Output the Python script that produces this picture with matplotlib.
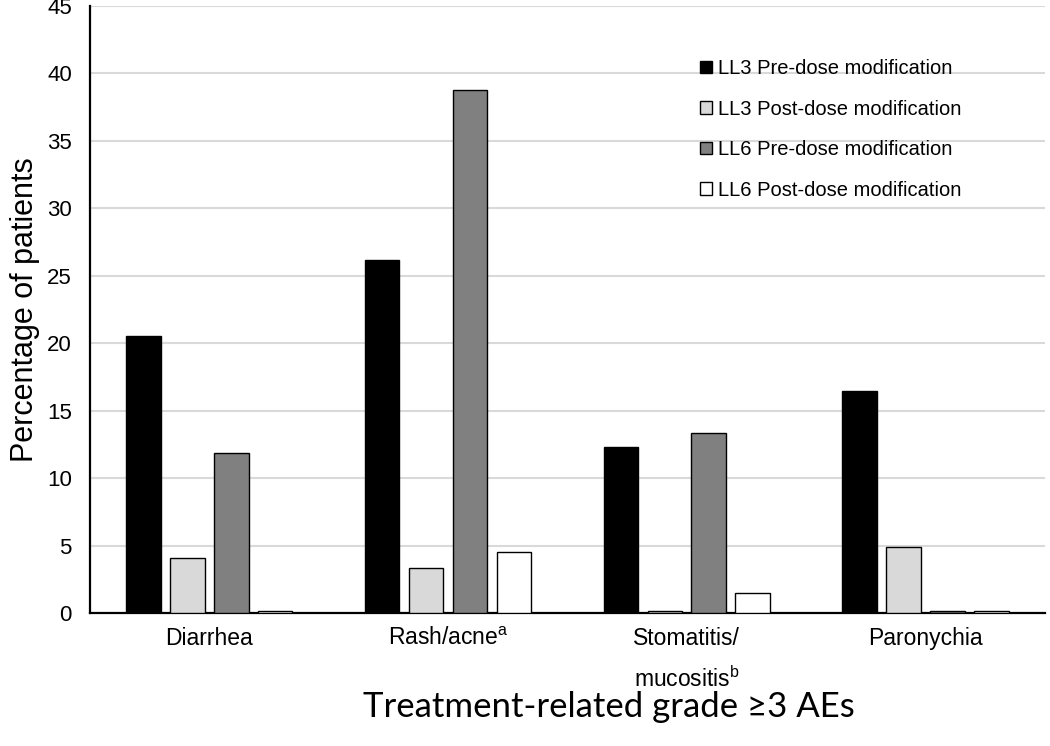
import numpy as np
import matplotlib
matplotlib.use('Agg')
import matplotlib.pyplot as plt

plt.rcParams['font.family'] = ['Liberation Sans', 'DejaVu Sans']
plt.rcParams['mathtext.fontset'] = 'custom'
plt.rcParams['mathtext.rm'] = 'Liberation Sans'
plt.rcParams['mathtext.it'] = 'Liberation Sans'

categories = ['Diarrhea', 'Rash/acne$^{\\mathrm{a}}$', 'Stomatitis/\nmucositis$^{\\mathrm{b}}$', 'Paronychia']
series_names = ['LL3 Pre-dose modification', 'LL3 Post-dose modification',
                'LL6 Pre-dose modification', 'LL6 Post-dose modification']
ll3_pre = [20.5, 26.2, 12.3, 16.45]
ll3_post = [4.05, 3.3, 0.15, 4.9]
ll6_pre = [11.85, 38.75, 13.35, 0.15]
ll6_post = [0.15, 4.5, 1.5, 0.12]
colors = ['#000000', '#d9d9d9', '#808080', '#ffffff']
yticks = [0, 5, 10, 15, 20, 25, 30, 35, 40, 45]

fig = plt.figure(figsize=(10.5, 7.46), dpi=100)
ax = fig.add_axes([0.0857, 0.1783, 0.9093, 0.8137])

x = np.arange(len(categories))
step = 0.184
width = 0.1445
for i, (vals, col, name) in enumerate(zip([ll3_pre, ll3_post, ll6_pre, ll6_post], colors, series_names)):
    ax.bar(x + (i - 1.5) * step, vals, width, color=col, edgecolor='black',
           linewidth=1.0, label=name, zorder=3)

ax.set_xlim(-0.5, 3.5)
ax.set_ylim(0, 45)
ax.set_yticks(yticks)
ax.set_yticklabels([str(t) for t in yticks], fontsize=16)
ax.set_xticks(x)
ax.set_xticklabels(categories, fontsize=16.5, linespacing=1.8, va='top')
ax.tick_params(axis='both', length=0)
ax.tick_params(axis='y', pad=13)
ax.tick_params(axis='x', pad=10)
ax.grid(axis='y', color='#d9d9d9', linewidth=1.5, zorder=0)
ax.set_axisbelow(True)
for s in ['top', 'right']:
    ax.spines[s].set_visible(False)
for s in ['left', 'bottom']:
    ax.spines[s].set_linewidth(1.6)

ax.set_ylabel('Percentage of patients', fontsize=22, labelpad=5)
fig.text(609 / 1050, 1 - 707 / 746, 'Treatment-related grade \u22653 AEs',
         fontsize=25, family=['Lato', 'DejaVu Sans'], ha='center', va='center')

ax.legend(loc='upper left', bbox_to_anchor=(700 / 1050, 1 - 59 / 746),
          bbox_transform=fig.transFigure, frameon=False, fontsize=14.5,
          handlelength=0.6, handleheight=0.6, handletextpad=0.3,
          labelspacing=1.07, borderpad=0, borderaxespad=0)

fig.savefig('out.png', dpi=100)
